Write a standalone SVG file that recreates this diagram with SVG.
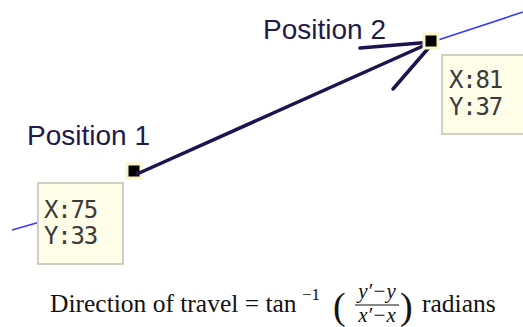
<svg xmlns="http://www.w3.org/2000/svg" width="523" height="327" viewBox="0 0 523 327">
<style>
.lbl{font-family:"Liberation Sans",Arial,sans-serif;font-size:28px;fill:#1f1a4a}
.box{fill:#fdfde8;stroke:#cfcfc4;stroke-width:2}
.coord{font-family:"DejaVu Sans Mono",monospace;font-size:24px;fill:#3a3a3a;letter-spacing:-1.2px}
.mark{fill:#000;stroke:#fbf6c8;stroke-width:3}
.path{fill:none;stroke:#3a3aff;stroke-width:1.6}
.arrow{fill:none;stroke:#1c1450;stroke-width:3.5;stroke-linecap:round}
.eq{font-family:"Liberation Serif","Times New Roman",serif;font-size:25.5px;fill:#111}
.frac{font-family:"Liberation Serif","Times New Roman",serif;font-size:21px;font-style:italic;fill:#111}
</style>
<g id="track">
<polyline class="path" points="12,230 40,222"/>
<polyline class="path" points="137,174 432,42 523,12"/>
</g>
<g id="pos1">
<text class="lbl" x="27" y="145">Position 1</text>
<rect class="mark" x="127" y="164" width="14" height="14"/>
<rect class="box" x="38" y="183" width="85" height="81"/>
<text class="coord" x="44" y="218">X:75</text>
<text class="coord" x="44" y="244">Y:33</text>
</g>
<g id="pos2">
<text class="lbl" x="263" y="39">Position 2</text>
<rect class="box" x="442" y="55" width="90" height="79"/>
<text class="coord" x="449" y="88">X:81</text>
<text class="coord" x="449" y="115">Y:37</text>
</g>
<g id="connectors">
<line class="arrow" x1="137" y1="174" x2="432" y2="42"/>
<line class="arrow" x1="360" y1="48" x2="432" y2="42"/>
<line class="arrow" x1="393" y1="89" x2="432" y2="44"/>
</g>
<g id="pos2mark">
<rect class="mark" x="424" y="34" width="14" height="14"/>
</g>
<g id="formula">
<text class="eq" x="50" y="312">Direction of travel = tan</text>
<text class="eq" x="302" y="300" style="font-size:17px">−1</text>
<text class="eq" x="333" y="319" style="font-size:38px">(</text>
<text class="frac" x="377" y="298" text-anchor="middle">y′−y</text>
<line x1="355" y1="305" x2="399" y2="305" stroke="#111" stroke-width="1.2"/>
<text class="frac" x="377" y="322" text-anchor="middle">x′−x</text>
<text class="eq" x="400" y="319" style="font-size:38px">)</text>
<text class="eq" x="422" y="312">radians</text>
</g>
</svg>
